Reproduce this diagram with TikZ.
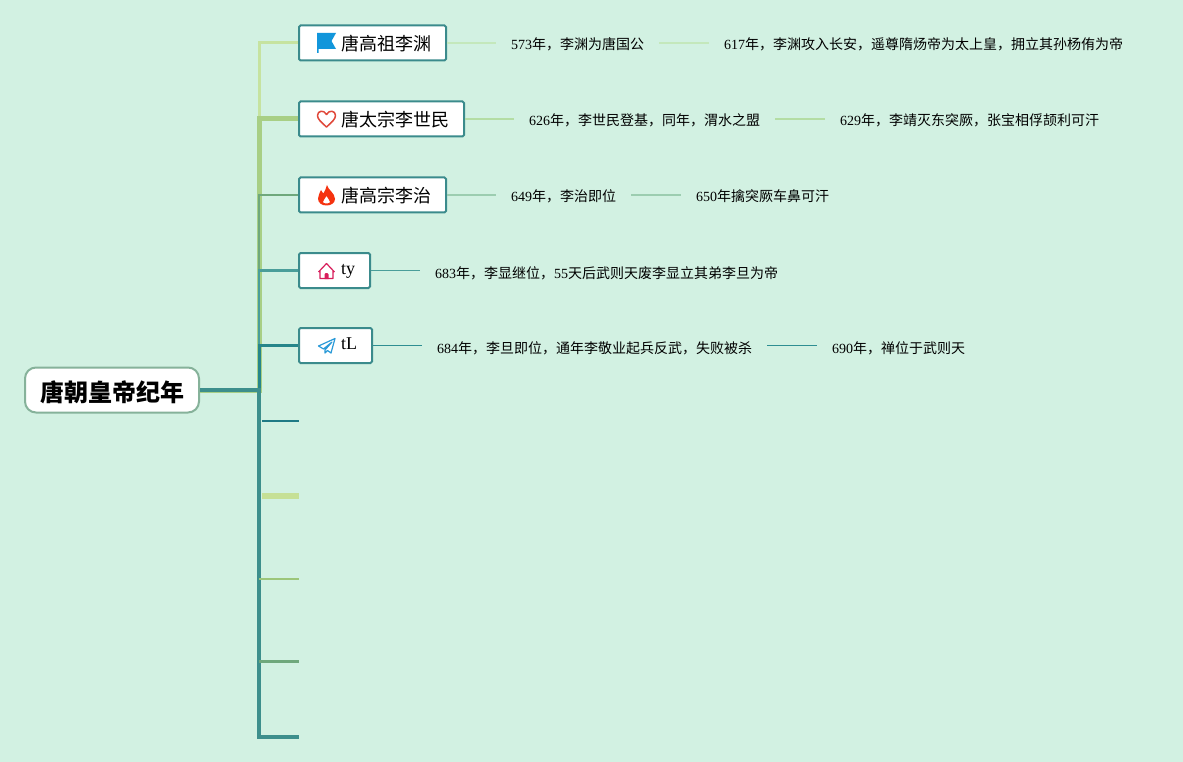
\documentclass[tikz,border=0pt]{standalone}
\usepackage{fontspec}
\setmainfont{Liberation Serif}
\newfontfamily\cjk{Noto Sans CJK SC}
\newcommand{\C}[1]{{\cjk #1}}
\newcommand{\TC}[1]{\raisebox{-3.5pt}{\cjk #1}}
\definecolor{bgc}{HTML}{D2F1E2}
\definecolor{bdr}{HTML}{3B8B8C}
\definecolor{rootb}{HTML}{86B29A}
\definecolor{cA}{HTML}{C6E3A0}
\definecolor{cB}{HTML}{A8CF85}
\definecolor{cC}{HTML}{6FA87C}
\definecolor{cD}{HTML}{4A9E9A}
\definecolor{cE}{HTML}{26868A}
\definecolor{cF}{HTML}{1F7A85}
\definecolor{cG}{HTML}{C6E096}
\definecolor{cH}{HTML}{9CC67A}
\definecolor{cI}{HTML}{3D8F8C}
\definecolor{lA}{HTML}{C4E8BC}
\definecolor{lB}{HTML}{B4DDA4}
\definecolor{lC}{HTML}{9CCDB0}
\definecolor{lD}{HTML}{4A9E9A}
\definecolor{lE}{HTML}{2E8E92}
\tikzset{
  x=1pt,y=-1pt,
  topic/.style={draw=bdr,fill=white,line width=2pt,rounded corners=1.5pt,anchor=west,inner xsep=15pt,inner ysep=0pt,minimum height=35pt,text height=13pt,text depth=4pt,font=\fontsize{18}{20}\selectfont},
  rootnode/.style={draw=rootb,fill=white,line width=2pt,rounded corners=11pt,inner xsep=15pt,inner ysep=0pt,minimum height=45pt,minimum width=173pt,text height=17pt,text depth=5pt,font=\fontsize{24}{26}\selectfont\bfseries},
  leaf/.style={anchor=west,inner xsep=15pt,inner ysep=0pt,font=\fontsize{14}{16}\selectfont,text depth=3pt,text height=11pt},
  branch/.style={line cap=butt,line join=miter},
  leafline/.style={line width=1.5pt}
}
\begin{document}
\begin{tikzpicture}
\useasboundingbox[fill=bgc] (0,0) rectangle (1183,762);
\node[rootnode] (root) at (112,390) {\raisebox{-5pt}{\cjk 唐朝皇帝纪年}};
\node[topic,minimum width=147pt] (n1) at (298,43) {\hspace*{27pt}\TC{唐高祖李渊}};
\node[topic,minimum width=165pt] (n2) at (298,119) {\hspace*{27pt}\TC{唐太宗李世民}};
\node[topic,minimum width=147pt] (n3) at (298,195) {\hspace*{27pt}\TC{唐高宗李治}};
\node[topic,minimum width=71pt] (n4) at (298,270.5) {\hspace*{27pt}\raisebox{1pt}{ty}};
\node[topic,minimum width=73pt] (n5) at (298,345.5) {\hspace*{27pt}\raisebox{1pt}{tL}};
\coordinate (sp) at (259,390);
\coordinate (e6) at (299,421);
\coordinate (s6) at (262,421);
\coordinate (e7) at (299,496);
\coordinate (s7) at (262,496);
\coordinate (e8) at (299,579);
\coordinate (e9) at (299,661);
\coordinate (e10) at (299,737);
% branches, bottom first
\draw[branch,cA,line width=3pt] (root.east) -- (sp) |- (n1.west);
\draw[branch,cB,line width=5pt] (root.east) -- (sp) |- (n2.west);
\draw[branch,cC,line width=2.5pt] (root.east) -- (sp) |- (n3.west);
\draw[branch,cD,line width=2.5pt] (root.east) -- (sp) |- (n4.west);
\draw[branch,cE,line width=3pt] (root.east) -- (sp) |- (n5.west);
\draw[branch,cI,line width=3.5pt] (root.east) -- (sp) |- (e10);
\draw[branch,cF,line width=2pt] (s6) -- (e6);
\draw[branch,cG,line width=6pt] (s7) -- (e7);
\draw[branch,cH,line width=2pt] (sp |- e8) -- (e8);
\draw[branch,cC,line width=3pt] (sp |- e9) -- (e9);
% leaves
\node[leaf] (a1) at (496,46) {573\C{年，李渊为唐国公}};
\node[leaf] (a2) at (709,46) {617\C{年，李渊攻入长安，遥尊隋炀帝为太上皇，拥立其孙杨侑为帝}};
\node[leaf] (b1) at (514,122) {626\C{年，李世民登基，同年，渭水之盟}};
\node[leaf] (b2) at (825,122) {629\C{年，李靖灭东突厥，张宝相俘颉利可汗}};
\node[leaf] (c1) at (496,198) {649\C{年，李治即位}};
\node[leaf] (c2) at (681,198) {650\C{年擒突厥车鼻可汗}};
\node[leaf] (d1) at (420,274) {683\C{年，李显继位，}55\C{天后武则天废李显立其弟李旦为帝}};
\node[leaf] (f1) at (422,349) {684\C{年，李旦即位，通年李敬业起兵反武，失败被杀}};
\node[leaf] (f2) at (817,349) {690\C{年，禅位于武则天}};
\draw[leafline,lA] (n1.east) -- (n1.east -| a1.west);
\draw[leafline,lA] (a1.east |- n1.east) -- (a2.west |- n1.east);
\draw[leafline,lB] (n2.east) -- (n2.east -| b1.west);
\draw[leafline,lB] (b1.east |- n2.east) -- (b2.west |- n2.east);
\draw[leafline,lC] (n3.east) -- (n3.east -| c1.west);
\draw[leafline,lC] (c1.east |- n3.east) -- (c2.west |- n3.east);
\draw[lD,line width=1.2pt] (n4.east) -- (n4.east -| d1.west);
\draw[lE,line width=1.2pt] (n5.east) -- (n5.east -| f1.west);
\draw[lE,line width=1.2pt] (f1.east |- n5.east) -- (f2.west |- n5.east);
% icons
\fill[color={rgb,255:red,18;green,150;blue,219}] (317,33) -- (336,33) -- (331.5,41) -- (336,49) -- (318.5,49) -- (318.5,53) -- (317,53) -- cycle;
\draw[color={rgb,255:red,224;green,72;blue,58},line width=1.5pt,line join=round] (326.5,127) .. controls (321,122) and (317.5,119) .. (317.5,115.5) .. controls (317.5,110.5) and (324,109.5) .. (326.5,114.5) .. controls (329,109.5) and (335.5,110.5) .. (335.5,115.5) .. controls (335.5,119) and (332,122) .. (326.5,127) -- cycle;
\fill[color={rgb,255:red,245;green,50;blue,15},even odd rule] (327,185) .. controls (328,190) and (335,193) .. (335,199) .. controls (335,203) and (331,205.5) .. (326.5,205.5) .. controls (322,205.5) and (318,203) .. (318,198.5) .. controls (318,195) and (320,193) .. (321,190) .. controls (322,192) and (323,193) .. (323.5,193.5) .. controls (325,191) and (326,188) .. (327,185) -- cycle
 (326.5,196) .. controls (325,199) and (323,200) .. (323,202) .. controls (323,204) and (330,204) .. (330,202) .. controls (330,200) and (328,199) .. (326.5,196) -- cycle;
\draw[color={rgb,255:red,216;green,30;blue,91},line width=1.2pt,line join=round] (318.5,272) -- (326.5,263.5) -- (334.5,272) (320,270.5) -- (320,278.5) -- (333,278.5) -- (333,270.5);
\fill[color={rgb,255:red,216;green,30;blue,91}] (324.5,279) -- (324.5,274.5) .. controls (324.5,272.5) and (328.5,272.5) .. (328.5,274.5) -- (328.5,279) -- cycle;
\draw[color={rgb,255:red,42;green,154;blue,216},line width=1.2pt,line join=round] (335,338.5) -- (318.5,346) -- (323.5,349) -- (332,342) -- (325,350) -- (325,353) -- (327.5,350.5) -- (331,353) -- cycle;
\end{tikzpicture}
\end{document}
